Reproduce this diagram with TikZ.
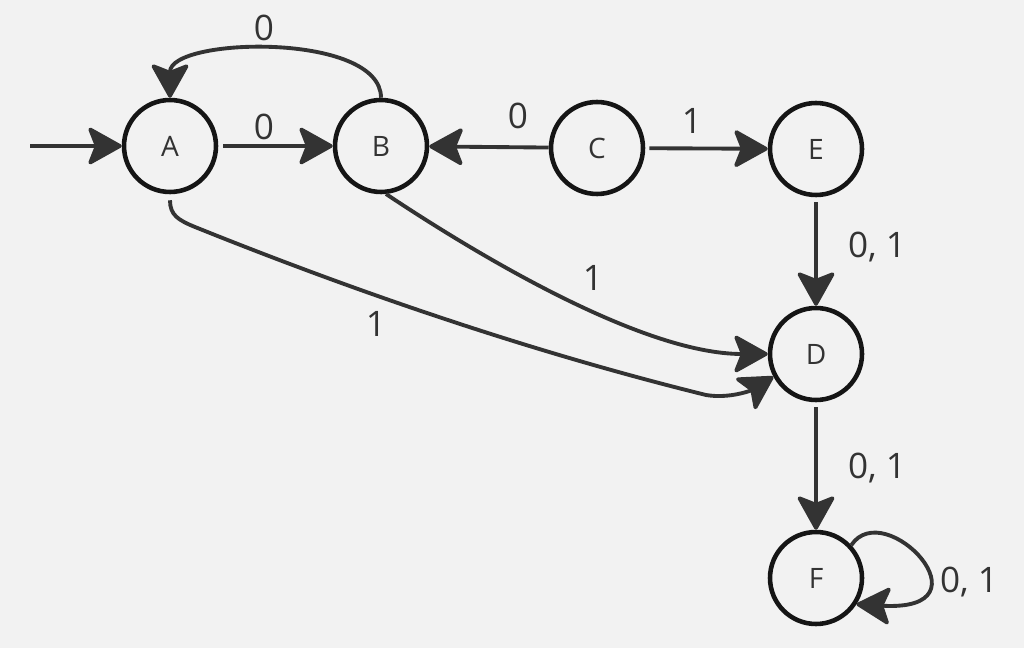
\documentclass[tikz,border=0pt]{standalone}
\usepackage{fontspec}
\setmainfont{Open Sans}
\usetikzlibrary{arrows.meta}
\definecolor{bg}{HTML}{F2F2F2}
\definecolor{edgec}{HTML}{333333}
\definecolor{nodec}{HTML}{151515}
\begin{document}
\begin{tikzpicture}[x=0.02cm,y=-0.02cm,
  state/.style={circle,draw=nodec,line width=2.6pt,minimum size=1.84cm,inner sep=0pt,text=edgec,font=\fontsize{16}{16}\selectfont},
  edge/.style={draw=edgec,line width=2.2pt,-{Stealth[length=0.74cm,width=0.82cm,inset=0.16cm,round]}},
  lab/.style={text=edgec,font=\fontsize{20}{20}\selectfont,inner sep=0pt,text depth=0pt}]
\fill[bg] (0,0) rectangle (1024,648);
\node[state] (A) at (170,146) {A};
\node[state] (B) at (381,146) {B};
\node[state] (C) at (597,148) {C};
\node[state] (E) at (816,149) {E};
\node[state] (D) at (816,354) {D};
\node[state] (F) at (816,578) {F};
\coordinate (start) at (30,146);
\draw[edge] (start) -- (A);
\draw[edge,shorten <=0.1cm] (A) -- (B);
\draw[edge] (C) -- (B);
\draw[edge,shorten <=0.08cm] (C) -- (E);
\draw[edge,shorten <=0.1cm] (E) -- (D);
\draw[edge,shorten <=0.1cm] (D) -- (F);
\draw[edge] (B.north) .. controls (381,32) and (170,37) .. (A.north);
\draw[edge] (B.-84) .. controls (470,250) and (640,354) .. (D.west);
\draw[edge,shorten <=0.12cm] (A.south) .. controls (170,215) and (178,220) .. (195,227) .. controls (359,293) and (532,352) .. (706,395) .. controls (730,399) and (752,390) .. (D.208);
\draw[edge] (F.43) .. controls (885,495) and (995,612) .. (F.-33);
\node[lab] (lba) at (264,28) {0};
\node[lab] (lab) at (264,127) {0};
\node[lab] (lcb) at (518,116) {0};
\node[lab] (lce) at (692,121) {1};
\node[lab] (led) at (877,245) {0, 1};
\node[lab] (ldf) at (877,466) {0, 1};
\node[lab] (lff) at (969,580) {0, 1};
\node[lab] (lbd) at (593,278) {1};
\node[lab] (lad) at (376,324) {1};
\end{tikzpicture}
\end{document}
